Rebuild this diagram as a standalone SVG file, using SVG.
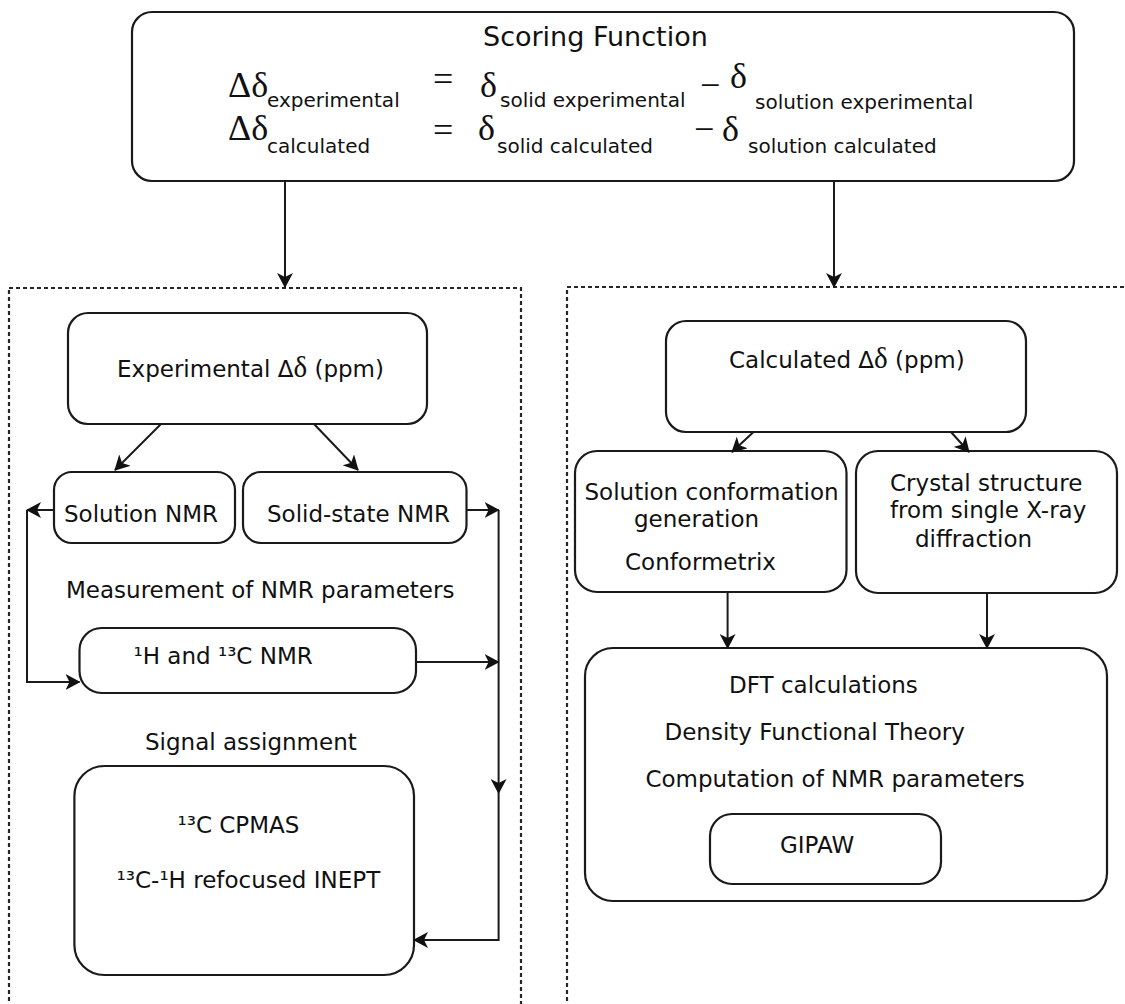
<svg xmlns="http://www.w3.org/2000/svg" width="1125" height="1004" viewBox="0 0 1125 1004">
<style>
.box{fill:#fff;stroke:#1a1a1a;stroke-width:2.2}
.panel{fill:none;stroke:#262626;stroke-width:2.2;stroke-dasharray:4 3}
.edge{fill:none;stroke:#1a1a1a;stroke-width:2}
.t{font-family:"DejaVu Sans",Verdana,sans-serif;font-size:23px;fill:#111}
.sub{font-family:"DejaVu Sans",Verdana,sans-serif;font-size:20px;fill:#111}
.m{font-family:"Liberation Serif","Times New Roman",serif;font-size:36px;fill:#111}
.d{font-family:"Liberation Serif","Times New Roman",serif;font-size:29px}
</style>
<defs>
<marker id="a" viewBox="0 0 15 16" refX="14" refY="8" markerWidth="15" markerHeight="16" markerUnits="userSpaceOnUse" orient="auto">
<path d="M0,0 L15,8 L0,16 L4,8 z" fill="#111"/>
</marker>
</defs>
<rect width="1125" height="1004" fill="#fff"/>
<g id="panel-experimental"><rect class="panel" x="9" y="288" width="512" height="800"/></g>
<g id="panel-calculated"><rect class="panel" x="567" y="287" width="600" height="800"/></g>
<g id="scoring-function">
<rect class="box" x="132" y="12" width="942" height="169" rx="20"/>
<text class="t" x="483" y="46" style="font-size:27px">Scoring Function</text>
<text class="m" x="228" y="97">Δδ</text>
<text class="sub" x="267" y="107">experimental</text>
<text class="m" x="433" y="91">=</text>
<text class="m" x="480" y="97">δ</text>
<text class="sub" x="500" y="107">solid experimental</text>
<text class="m" x="700" y="97">−</text>
<text class="m" x="730" y="88">δ</text>
<text class="sub" x="755" y="109">solution experimental</text>
<text class="m" x="228" y="140">Δδ</text>
<text class="sub" x="267" y="153">calculated</text>
<text class="m" x="433" y="142">=</text>
<text class="m" x="478" y="140">δ</text>
<text class="sub" x="497" y="153">solid calculated</text>
<text class="m" x="694" y="141">−</text>
<text class="m" x="722" y="141">δ</text>
<text class="sub" x="748" y="153">solution calculated</text>
</g>
<g id="experimental">
<rect class="box" x="68" y="313" width="359" height="111" rx="20"/>
<text class="t" x="117" y="377">Experimental Δ<tspan class="d">δ</tspan> (ppm)</text>
</g>
<g id="solution-nmr">
<rect class="box" x="54" y="472" width="181" height="71" rx="18"/>
<text class="t" x="64" y="522">Solution NMR</text>
</g>
<g id="solid-state-nmr">
<rect class="box" x="243" y="472" width="223.5" height="71" rx="18"/>
<text class="t" x="267" y="522">Solid-state NMR</text>
</g>
<g id="measurement-label"><text class="t" x="66" y="598">Measurement of NMR parameters</text></g>
<g id="h-c-nmr">
<rect class="box" x="79.5" y="628" width="336.5" height="65" rx="22"/>
<text class="t" x="133.5" y="664">¹H and ¹³C NMR</text>
</g>
<g id="signal-label"><text class="t" x="145" y="750">Signal assignment</text></g>
<g id="signal-assignment">
<rect class="box" x="74.4" y="766" width="339.6" height="209" rx="30"/>
<text class="t" x="177.5" y="833">¹³C CPMAS</text>
<text class="t" x="116.6" y="888">¹³C-¹H refocused INEPT</text>
</g>
<g id="calculated">
<rect class="box" x="666" y="321" width="360" height="111" rx="20"/>
<text class="t" x="729" y="368">Calculated Δ<tspan class="d">δ</tspan> (ppm)</text>
</g>
<g id="solution-conformation">
<rect class="box" x="575" y="451" width="271.5" height="141" rx="22"/>
<text class="t" x="584.5" y="500">Solution conformation</text>
<text class="t" x="634" y="527">generation</text>
<text class="t" x="625" y="570">Conformetrix</text>
</g>
<g id="crystal-structure">
<rect class="box" x="856" y="451" width="261" height="142" rx="22"/>
<text class="t" x="890" y="491">Crystal structure</text>
<text class="t" x="890" y="518">from single X-ray</text>
<text class="t" x="915" y="547">diffraction</text>
</g>
<g id="dft">
<rect class="box" x="585" y="648" width="522" height="253" rx="28"/>
<text class="t" x="729" y="693">DFT calculations</text>
<text class="t" x="664.5" y="740">Density Functional Theory</text>
<text class="t" x="645.4" y="787">Computation of NMR parameters</text>
</g>
<g id="gipaw">
<rect class="box" x="710" y="814" width="231" height="70" rx="22"/>
<text class="t" x="780" y="853">GIPAW</text>
</g>
<g id="connectors">
<path class="edge" marker-end="url(#a)" d="M285,181 V287"/>
<path class="edge" marker-end="url(#a)" d="M834,181 V287"/>
<path class="edge" marker-end="url(#a)" d="M161,424 L115,470"/>
<path class="edge" marker-end="url(#a)" d="M314,424 L358,470"/>
<path class="edge" marker-end="url(#a)" d="M54,510 H27"/>
<path class="edge" marker-end="url(#a)" d="M27,510 V682 H79.5"/>
<path class="edge" marker-end="url(#a)" d="M466.5,510 H498.6"/>
<path class="edge" marker-end="url(#a)" d="M498.6,510 V793"/>
<path class="edge" marker-end="url(#a)" d="M498.6,793 V940 H414"/>
<path class="edge" marker-end="url(#a)" d="M416,662 H498.6"/>
<path class="edge" marker-end="url(#a)" d="M753.5,432 L732,452"/>
<path class="edge" marker-end="url(#a)" d="M951,432 L969,452"/>
<path class="edge" marker-end="url(#a)" d="M727.6,592 V648"/>
<path class="edge" marker-end="url(#a)" d="M987,593 V648"/>
</g>
</svg>
